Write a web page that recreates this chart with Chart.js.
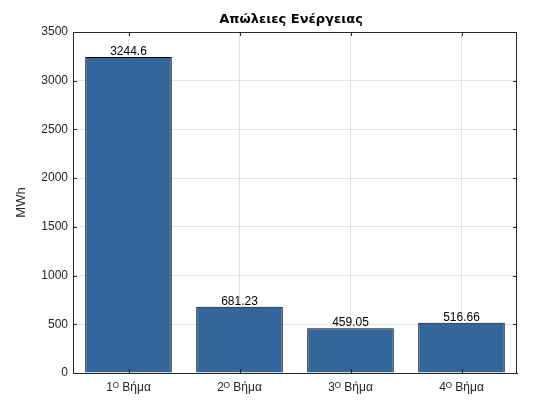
<!DOCTYPE html>
<html>
<head>
<meta charset="utf-8">
<script src="https://cdn.jsdelivr.net/npm/chart.js@4/dist/chart.umd.min.js"></script>
<style>
  html, body { margin: 0; padding: 0; background: #fff; }
  #wrap { width: 560px; height: 420px; }
</style>
</head>
<body>
<div id="wrap"><canvas id="lossChart" width="560" height="420"></canvas></div>
<script>
const chartTitle = 'Απώλειες Ενέργειας';
const steps = ['1\u1D3C Βήμα', '2\u1D3C Βήμα', '3\u1D3C Βήμα', '4\u1D3C Βήμα'];
const losses = [3244.6, 681.23, 459.05, 516.66];
const lossLabels = ['3244.6', '681.23', '459.05', '516.66'];
const yTicks = [0, 500, 1000, 1500, 2000, 2500, 3000, 3500];

const axisColor = '#262626';
const fontFamily = '"Liberation Sans", Arial, sans-serif';

// MATLAB-like box, inward ticks, title and value labels over bars
const boxPlugin = {
    id: 'boxPlugin',
    afterDatasetsDraw(chart) {
        const { ctx, chartArea: a, scales } = chart;
        ctx.save();
        ctx.strokeStyle = axisColor;
        ctx.lineWidth = 1;
        ctx.beginPath();
        ctx.moveTo(a.left, a.top + 0.5);
        ctx.lineTo(a.right, a.top + 0.5);
        ctx.moveTo(a.right - 0.5, a.top);
        ctx.lineTo(a.right - 0.5, a.bottom);
        yTicks.forEach(v => {
            const y = Math.round(scales.y.getPixelForValue(v)) + 0.5;
            ctx.moveTo(a.left, y); ctx.lineTo(a.left + 4, y);
            ctx.moveTo(a.right, y); ctx.lineTo(a.right - 4, y);
        });
        steps.forEach((s, i) => {
            const x = Math.round(scales.x.getPixelForValue(i)) + 0.5;
            ctx.moveTo(x, a.bottom); ctx.lineTo(x, a.bottom - 4);
            ctx.moveTo(x, a.top); ctx.lineTo(x, a.top + 4);
        });
        ctx.stroke();

        ctx.fillStyle = '#000';
        ctx.font = '12px ' + fontFamily;
        ctx.textAlign = 'center';
        ctx.textBaseline = 'alphabetic';
        const meta = chart.getDatasetMeta(0);
        meta.data.forEach((bar, i) => {
            ctx.fillText(lossLabels[i], bar.x, bar.y - 2);
        });

        ctx.font = 'bold 13px "DejaVu Sans", sans-serif';
        ctx.fillText(chartTitle, (a.left + a.right) / 2 - 4, 23);
        ctx.restore();
    }
};

new Chart(document.getElementById('lossChart').getContext('2d'), {
    type: 'bar',
    data: {
        labels: steps,
        datasets: [{
            label: chartTitle,
            data: losses,
            backgroundColor: '#33669a',
            borderColor: '#000000',
            borderWidth: 1,
            barPercentage: 0.78,
            categoryPercentage: 1.0
        }]
    },
    options: {
        responsive: false,
        animation: false,
        layout: { padding: { top: 32, right: 43, bottom: 0, left: 14 } },
        scales: {
            x: {
                grid: { offset: false, color: '#e3e3e3', drawTicks: false },
                border: { color: axisColor },
                ticks: { color: axisColor, font: { size: 12, family: fontFamily }, padding: 7 },
                afterFit(scale) { scale.height = 47; }
            },
            y: {
                min: 0,
                max: 3500,
                grid: { color: '#e3e3e3', drawTicks: false },
                border: { color: axisColor },
                ticks: {
                    stepSize: 500,
                    color: axisColor,
                    font: { size: 12, family: fontFamily },
                    padding: 5,
                    callback: v => String(v)
                },
                title: {
                    display: true,
                    text: 'MWh',
                    color: axisColor,
                    font: { size: 13, family: fontFamily },
                    padding: { top: 0, bottom: 4 }
                },
                afterFit(scale) { scale.width = 59; }
            }
        },
        plugins: {
            legend: { display: false },
            tooltip: { enabled: false },
            title: { display: false }
        }
    },
    plugins: [boxPlugin]
});
</script>
</body>
</html>
